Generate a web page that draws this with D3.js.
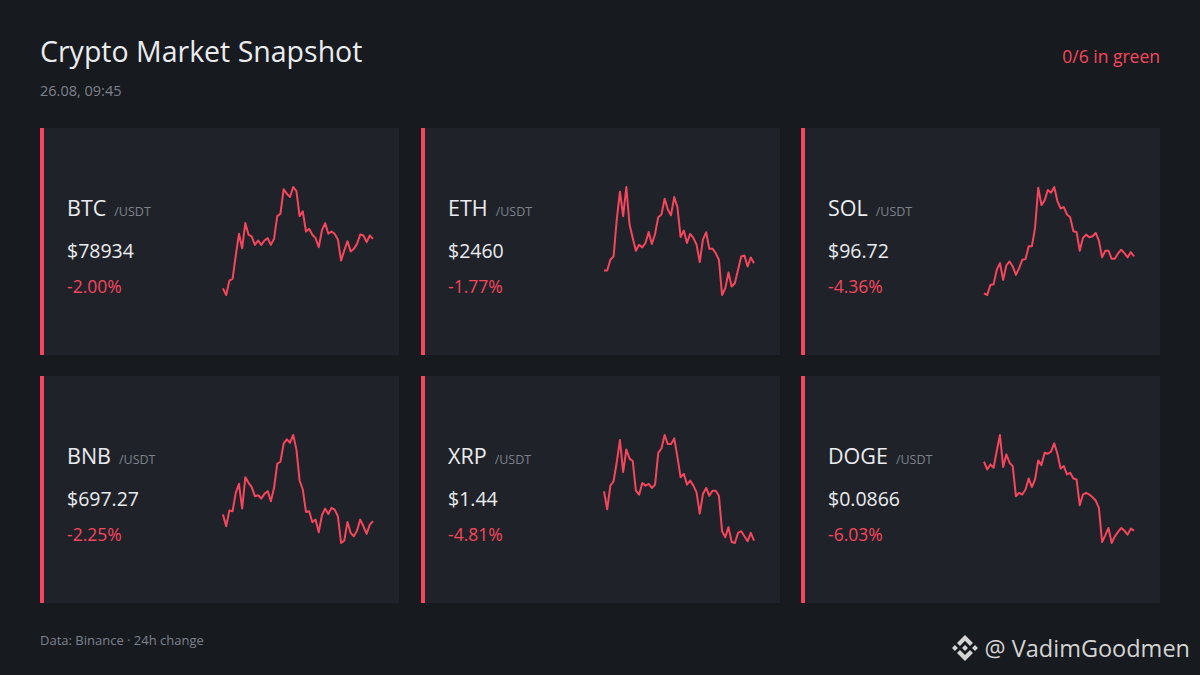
<!DOCTYPE html>
<html>
<head>
<meta charset="utf-8">
<script src="https://cdn.jsdelivr.net/npm/d3@7"></script>
<style>
  html, body { margin: 0; padding: 0; background: #171a1f; }
  svg { display: block; font-family: "Open Sans", "Noto Sans", sans-serif; }
</style>
</head>
<body>
<svg id="chart" width="1200" height="675"></svg>
<script>
// values
const symbols = ["BTC", "ETH", "SOL", "BNB", "XRP", "DOGE"];
const prices = ["$78934", "$2460", "$96.72", "$697.27", "$1.44", "$0.0866"];
const changes = [-2.00, -1.77, -4.36, -2.25, -4.81, -6.03];

// sparkline shapes (relative levels, 48 samples each)
const sparkBTC = [62,42,85,90,160,225,182,257,222,217,192,205,192,205,212,192,210,278,285,358,345,335,365,353,278,292,232,240,222,212,185,235,257,225,232,225,208,145,175,203,172,180,195,223,220,200,220,210];
const sparkETH = [113,113,145,155,265,348,275,362,250,210,172,190,182,195,228,192,222,272,280,327,295,278,332,302,213,232,195,222,210,190,138,205,227,178,178,165,145,40,60,107,65,75,115,155,158,125,152,135];
const sparkSOL = [45,40,70,72,115,135,85,128,140,125,100,120,145,147,185,185,240,360,308,322,353,345,362,320,298,302,280,272,230,228,172,210,220,212,215,225,202,152,172,172,148,148,164,175,165,152,168,155];
const sparkBNB = [130,95,142,140,195,222,148,242,225,212,185,188,178,192,200,170,210,282,288,342,355,345,368,325,232,205,138,140,107,115,77,128,148,132,150,145,125,45,52,108,75,65,82,115,95,72,100,110];
const sparkXRP = [198,145,215,228,285,350,255,322,295,288,200,188,223,215,220,208,218,312,325,365,338,338,355,300,240,250,218,230,215,195,132,190,208,185,200,200,185,80,62,92,48,45,75,80,65,50,75,52];
const sparkDOGE = [288,265,280,270,320,368,272,310,285,275,185,195,190,205,238,212,235,292,278,315,312,318,343,312,268,275,250,255,238,235,158,190,195,190,182,172,150,48,68,90,45,65,78,90,82,70,88,82];
const sparks = [sparkBTC, sparkETH, sparkSOL, sparkBNB, sparkXRP, sparkDOGE];

const RED = "#f6465d", GREEN = "#0ecb81";
const W = 1200, H = 675;
const svg = d3.select("#chart");

svg.append("rect").attr("width", W).attr("height", H).attr("fill", "#171a1f");

// header
svg.append("text").attr("x", 40).attr("y", 62)
  .attr("font-size", 28.5).attr("fill", "#eaecef").text("Crypto Market Snapshot");
svg.append("text").attr("x", 40).attr("y", 96)
  .attr("font-size", 14.5).attr("fill", "#7d838c").text("26.08, 09:45");

const nGreen = changes.filter(d => d > 0).length;
svg.append("text").attr("x", 1160).attr("y", 63).attr("text-anchor", "end")
  .attr("font-size", 17.5).attr("fill", nGreen > changes.length / 2 ? GREEN : RED)
  .text(`${nGreen}/${changes.length} in green`);

// card grid
const colX = d3.scaleLinear().domain([0, 2]).range([40, 801]);
const rowY = d3.scaleLinear().domain([0, 1]).range([128, 376]);
const cardW = 359, cardH = 227;

const cards = svg.selectAll("g.card")
  .data(symbols.map((s, i) => ({ sym: s, price: prices[i], chg: changes[i], spark: sparks[i], i })))
  .join("g")
  .attr("class", "card")
  .attr("transform", d => `translate(${Math.round(colX(d.i % 3))},${rowY(Math.floor(d.i / 3))})`);

cards.append("rect").attr("width", cardW).attr("height", cardH).attr("fill", "#1f2229");
cards.append("rect").attr("width", 4).attr("height", cardH).attr("fill", d => d.chg >= 0 ? GREEN : RED);

cards.each(function (d) {
  const g = d3.select(this);
  const sym = g.append("text").attr("x", 27).attr("y", 88)
    .attr("font-size", 21.5).attr("fill", "#eaecef").text(d.sym);
  const sw = sym.node().getComputedTextLength();
  g.append("text").attr("x", 27 + sw + 8).attr("y", 88)
    .attr("font-size", 12.5).attr("fill", "#7d838c").text("/USDT");
  g.append("text").attr("x", 27).attr("y", 130)
    .attr("font-size", 19.5).attr("fill", "#eaecef").text(d.price);
  g.append("text").attr("x", 27).attr("y", 165)
    .attr("font-size", 17.5).attr("fill", d.chg >= 0 ? GREEN : RED)
    .text((d.chg >= 0 ? "+" : "") + d.chg.toFixed(2) + "%");

  const x = d3.scaleLinear().domain([0, d.spark.length - 1]).range([183, 333]);
  const y = d3.scaleLinear().domain(d3.extent(d.spark)).range([167, 59]);
  g.append("path")
    .datum(d.spark)
    .attr("fill", "none")
    .attr("stroke", d.chg >= 0 ? GREEN : RED)
    .attr("stroke-width", 2)
    .attr("stroke-linejoin", "round")
    .attr("d", d3.line().x((v, j) => x(j)).y(v => y(v)));
});

// footer
svg.append("text").attr("x", 40).attr("y", 645)
  .attr("font-size", 13).attr("fill", "#7d838c").text("Data: Binance \u00b7 24h change");

const wm = svg.append("g");
wm.append("text").attr("x", 1190).attr("y", 657).attr("text-anchor", "end")
  .attr("font-size", 23.5).attr("fill", "#d4d4d4").text("@ VadimGoodmen");
const logo = wm.append("g").attr("transform", "translate(952,635) scale(0.205)").attr("fill", "#d4d4d4");
[
  "M38.73 53.2l24.59-24.58 24.6 24.6 14.3-14.31L63.32 0 24.42 38.9z",
  "M0 63.31l14.3-14.31 14.31 14.31-14.31 14.3z",
  "M38.73 73.41l24.59 24.59 24.6-24.6 14.31 14.29-38.9 38.91-38.91-38.88z",
  "M98 63.31l14.3-14.31 14.31 14.3-14.31 14.32z",
  "M77.83 63.3L63.32 48.78 52.59 59.51l-1.24 1.23-2.54 2.54 14.51 14.5 14.51-14.47z"
].forEach(p => logo.append("path").attr("d", p));
</script>
</body>
</html>
